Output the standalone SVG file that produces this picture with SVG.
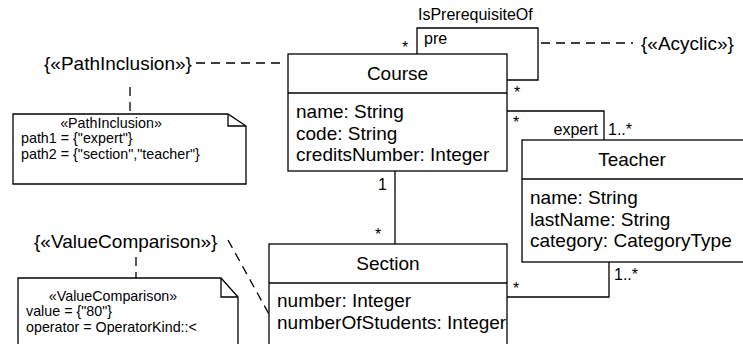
<svg xmlns="http://www.w3.org/2000/svg" width="743" height="344" viewBox="0 0 743 344">
<style>
.box{fill:#fff;stroke:#000;stroke-width:1.3}
.ln{fill:none;stroke:#000;stroke-width:1.3}
.dash{fill:none;stroke:#000;stroke-width:1.3;stroke-dasharray:9 6}
text{font-family:"Liberation Sans",Arial,sans-serif;fill:#000}
.t{font-size:19px}
.a{font-size:19px}
.m{font-size:16px}
.c{font-size:19px}
.n{font-size:14.3px}
</style>
<rect width="743" height="344" fill="#fff"/>
<g id="connectors">
<polyline class="ln" points="417,54 417,28 538,28 538,80 507,80"/>
<polyline class="ln" points="507,111 604,111 604,140"/>
<line class="ln" x1="395" y1="171" x2="395" y2="244"/>
<polyline class="ln" points="507,297 609,297 609,262"/>
<line class="dash" x1="541" y1="43" x2="633" y2="43"/>
<line class="dash" x1="196" y1="63" x2="286" y2="63"/>
<line class="dash" x1="130" y1="87" x2="130" y2="114"/>
<line class="dash" x1="136" y1="257" x2="136" y2="278"/>
<line class="dash" x1="228" y1="240" x2="270" y2="316"/>
<text class="m" x="418" y="20">IsPrerequisiteOf</text>
<text class="m" x="424" y="44">pre</text>
<text class="m" x="402" y="53">*</text>
<text class="m" x="514" y="98">*</text>
<text class="m" x="513" y="128">*</text>
<text class="m" x="598" y="135" text-anchor="end">expert</text>
<text class="m" x="608" y="135">1..*</text>
<text class="m" x="378" y="190">1</text>
<text class="m" x="375" y="240">*</text>
<text class="m" x="513" y="294">*</text>
<text class="m" x="614" y="280">1..*</text>
</g>
<g id="course">
<rect class="box" x="288" y="54" width="219" height="117"/>
<line class="ln" x1="288" y1="93" x2="507" y2="93"/>
<text class="t" x="397.5" y="80" text-anchor="middle">Course</text>
<text class="a" x="296" y="118">name: String</text>
<text class="a" x="296" y="139.5">code: String</text>
<text class="a" x="296" y="161">creditsNumber: Integer</text>
</g>
<g id="teacher">
<rect class="box" x="522" y="140" width="222" height="122"/>
<line class="ln" x1="522" y1="179" x2="743" y2="179"/>
<text class="t" x="632" y="166" text-anchor="middle">Teacher</text>
<text class="a" x="530" y="204">name: String</text>
<text class="a" x="530" y="225.5">lastName: String</text>
<text class="a" x="530" y="247">category: CategoryType</text>
</g>
<g id="section">
<rect class="box" x="269" y="244" width="238" height="110"/>
<line class="ln" x1="269" y1="283" x2="507" y2="283"/>
<text class="t" x="388" y="270" text-anchor="middle">Section</text>
<text class="a" x="277" y="307">number: Integer</text>
<text class="a" x="277" y="328.5">numberOfStudents: Integer</text>
</g>
<g id="acyclic">
<text class="c" x="641" y="50">{«Acyclic»}</text>
</g>
<g id="pathInclusionLabel">
<text class="c" x="44" y="70">{«PathInclusion»}</text>
</g>
<g id="pathInclusionNote">
<polygon class="box" points="13,114 228,114 246,126 246,184 13,184"/>
<polyline class="ln" points="228,114 228,126 246,126"/>
<text class="n" x="111" y="128" text-anchor="middle">«PathInclusion»</text>
<text class="n" x="21" y="143">path1 = {"expert"}</text>
<text class="n" x="21" y="159">path2 = {"section","teacher"}</text>
</g>
<g id="valueComparisonLabel">
<text class="c" x="34" y="248">{«ValueComparison»}</text>
</g>
<g id="valueComparisonNote">
<polygon class="box" points="18,278 221,278 238,297 238,354 18,354"/>
<polyline class="ln" points="221,278 221,297 238,297"/>
<text class="n" x="113" y="301" text-anchor="middle">«ValueComparison»</text>
<text class="n" x="26" y="316">value = {"80"}</text>
<text class="n" x="26" y="332">operator = OperatorKind::&lt;</text>
</g>
</svg>
